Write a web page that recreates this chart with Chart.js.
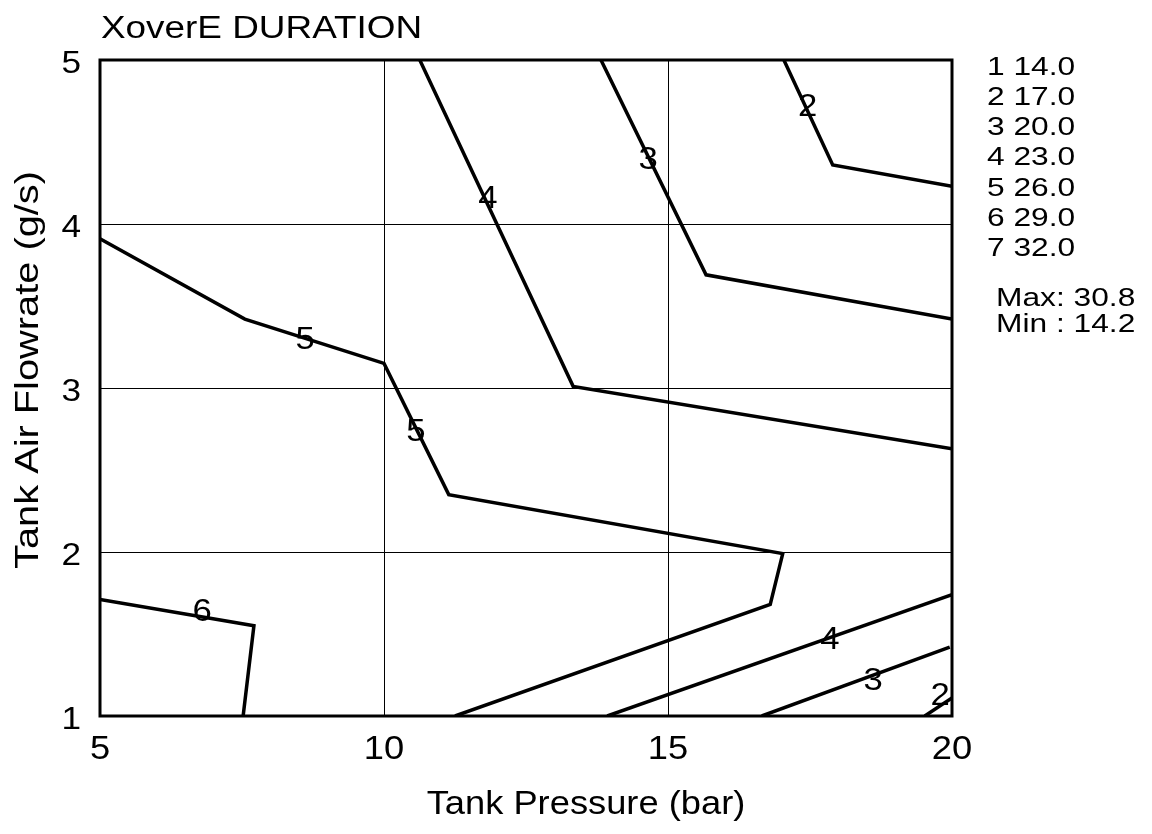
<!DOCTYPE html>
<html>
<head>
<meta charset="utf-8">
<script src="https://cdn.jsdelivr.net/npm/chart.js@4/dist/chart.umd.min.js"></script>
<style>
  html, body { margin: 0; padding: 0; background: #fff; }
  #wrap { width: 1152px; height: 834px; }
</style>
</head>
<body>
<div id="wrap"><canvas id="grafica" width="1152" height="834"></canvas></div>
<script>
// Contour lines (Tank Pressure in bar, Tank Air Flowrate in g/s)
const linea2SupX = [17.04, 17.90, 20.0];
const linea2SupY = [5.0, 4.36, 4.23];
const linea3SupX = [13.82, 15.67, 20.0];
const linea3SupY = [5.0, 3.69, 3.42];
const linea4SupX = [10.63, 13.33, 20.0];
const linea4SupY = [5.0, 3.01, 2.63];
const linea5X = [5.0, 7.55, 10.0, 11.14, 17.02, 16.80, 11.25];
const linea5Y = [3.91, 3.42, 3.15, 2.35, 1.99, 1.68, 1.0];
const linea6X = [5.0, 7.71, 7.52];
const linea6Y = [1.71, 1.55, 1.0];
const linea4InfX = [13.93, 20.0];
const linea4InfY = [1.0, 1.74];
const linea3InfX = [16.65, 19.96];
const linea3InfY = [1.0, 1.42];
const linea2InfX = [19.52, 20.0];
const linea2InfY = [1.0, 1.11];

// Contour labels
const etiquetasTexto = ['2', '3', '4', '5', '5', '6', '4', '3', '2'];
const etiquetasX = [17.46, 14.65, 11.83, 8.61, 10.56, 6.80, 17.85, 18.61, 19.79];
const etiquetasY = [4.71, 4.39, 4.15, 3.29, 2.73, 1.63, 1.46, 1.21, 1.12];

// Level legend
const niveles = ['1', '2', '3', '4', '5', '6', '7'];
const valoresNivel = ['14.0', '17.0', '20.0', '23.0', '26.0', '29.0', '32.0'];
const valorMax = '30.8';
const valorMin = '14.2';

const ticksX = [5, 10, 15, 20];
const ticksY = [1, 2, 3, 4, 5];

const fuente = '"Liberation Sans", Arial, Helvetica, sans-serif';

function puntos(xs, ys) {
  return xs.map((x, i) => ({ x: x, y: ys[i] }));
}

// draws text, stretched along its own direction (the original lettering is wider than Arial)
function texto(c, t, x, y, size, estirar, align, rot) {
  c.save();
  c.translate(x, y);
  if (rot) c.rotate(rot);
  c.scale(estirar, 1);
  c.font = size + 'px ' + fuente;
  c.textAlign = align;
  c.textBaseline = 'middle';
  c.fillStyle = '#000';
  c.fillText(t, 0, 0);
  c.restore();
}

const lineas = [
  [linea2SupX, linea2SupY], [linea3SupX, linea3SupY], [linea4SupX, linea4SupY],
  [linea5X, linea5Y], [linea6X, linea6Y],
  [linea4InfX, linea4InfY], [linea3InfX, linea3InfY], [linea2InfX, linea2InfY]
];

const datasets = lineas.map(l => ({
  data: puntos(l[0], l[1]),
  showLine: true,
  borderColor: '#000',
  borderWidth: 3.5,
  pointRadius: 0,
  tension: 0,
  fill: false
}));

const pluginDibujo = {
  id: 'dibujo',
  beforeDraw(chart) {
    const c = chart.ctx;
    c.save();
    c.fillStyle = '#fff';
    c.fillRect(0, 0, chart.width, chart.height);
    c.restore();
  },
  afterDatasetsDraw(chart) {
    const c = chart.ctx;
    const a = chart.chartArea;
    const sx = chart.scales.x;
    const sy = chart.scales.y;
    c.save();
    // frame
    c.strokeStyle = '#000';
    c.lineWidth = 3;
    c.strokeRect(a.left, a.top, a.right - a.left, a.bottom - a.top);
    c.restore();

    // contour labels
    etiquetasTexto.forEach((t, i) => {
      texto(c, t, sx.getPixelForValue(etiquetasX[i]), sy.getPixelForValue(etiquetasY[i]), 31, 1.12, 'center');
    });

    // tick labels
    ticksX.forEach(v => texto(c, String(v), sx.getPixelForValue(v), a.bottom + 34, 33, 1.1, 'center'));
    ticksY.forEach(v => texto(c, String(v), a.left - 19, sy.getPixelForValue(v) + 4, 32, 1.1, 'right'));

    // axis titles
    texto(c, 'Tank Pressure (bar)', 586, 805, 33, 1.1, 'center');
    texto(c, 'Tank Air Flowrate (g/s)', 29, 370, 34, 1.17, 'center', -Math.PI / 2);

    // title
    texto(c, 'XoverE DURATION', a.left + 1, 29, 31, 1.19, 'left');

    // level legend
    niveles.forEach((n, i) => {
      texto(c, n + ' ' + valoresNivel[i], 987, 68 + i * 30.1, 26, 1.22, 'left');
    });
    texto(c, 'Max: ' + valorMax, 996, 299, 26, 1.22, 'left');
    texto(c, 'Min : ' + valorMin, 996, 325, 26, 1.22, 'left');
  }
};

new Chart(document.getElementById('grafica').getContext('2d'), {
  type: 'scatter',
  data: { datasets: datasets },
  plugins: [pluginDibujo],
  options: {
    responsive: false,
    animation: false,
    layout: { padding: { top: 60, right: 200, left: 0, bottom: 0 } },
    plugins: {
      legend: { display: false },
      tooltip: { enabled: false }
    },
    scales: {
      x: {
        type: 'linear',
        min: 5,
        max: 20,
        afterFit(scale) { scale.height = 118; },
        afterBuildTicks(scale) { scale.ticks = ticksX.map(v => ({ value: v })); },
        grid: { color: '#000', lineWidth: 1, drawTicks: false },
        border: { display: false },
        ticks: { display: false },
        title: { display: false }
      },
      y: {
        type: 'linear',
        min: 1,
        max: 5,
        afterFit(scale) { scale.width = 100; },
        afterBuildTicks(scale) { scale.ticks = ticksY.map(v => ({ value: v })); },
        grid: { color: '#000', lineWidth: 1, drawTicks: false },
        border: { display: false },
        ticks: { display: false },
        title: { display: false }
      }
    }
  }
});
</script>
</body>
</html>
